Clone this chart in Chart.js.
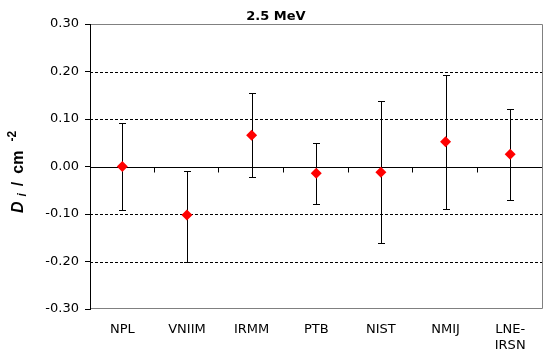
<!DOCTYPE html>
<html>
<head>
<meta charset="utf-8">
<script src="https://cdn.jsdelivr.net/npm/chart.js@4.4.0/dist/chart.umd.min.js"></script>
<style>
  html, body { margin: 0; padding: 0; background: #fff; }
  #wrap { width: 548px; height: 354px; }
</style>
</head>
<body>
<div id="wrap"><canvas id="chart" width="548" height="354"></canvas></div>
<script>
// data
var labs = ['NPL', 'VNIIM', 'IRMM', 'PTB', 'NIST', 'NMIJ', ['LNE-', 'IRSN']];
var vals = [0.000, -0.102, 0.066, -0.014, -0.012, 0.052, 0.026];
var errHi = [0.092, -0.009, 0.155, 0.050, 0.138, 0.193, 0.121];
var errLo = [-0.091, -0.200, -0.022, -0.079, -0.161, -0.089, -0.070];
var yTicks = [-0.3, -0.2, -0.1, 0, 0.1, 0.2, 0.3];

var tickFont = { family: 'DejaVu Sans', size: 13, lineHeight: 1.2 };

function hline(ctx, x1, x2, py) {
	ctx.beginPath();
	ctx.moveTo(x1, py);
	ctx.lineTo(x2, py);
	ctx.stroke();
}

// grid, border, zero axis and error bars
var decor = {
	id: 'decor',
	beforeDatasetsDraw: function(chart) {
		var ctx = chart.ctx, a = chart.chartArea;
		var x = chart.scales.x, y = chart.scales.y;
		ctx.save();
		ctx.lineWidth = 1;

		// dashed grid lines
		ctx.strokeStyle = '#000';
		ctx.setLineDash([3, 2]);
		yTicks.forEach(function(t) {
			if (t == 0 || Math.abs(t) > 0.25) return;
			hline(ctx, a.left, a.right, Math.round(y.getPixelForValue(t)) + 0.5);
		});
		ctx.setLineDash([]);

		// zero line with category ticks
		ctx.strokeStyle = '#000';
		var zy = Math.round(y.getPixelForValue(0)) + 0.5;
		hline(ctx, a.left, a.right, zy);
		var step = (a.right - a.left) / labs.length;
		ctx.beginPath();
		for (var i = 1; i <= labs.length; i++) {
			var tx = Math.round(x.getPixelForValue(i - 1) + step / 2) - 0.5;
			ctx.moveTo(tx, zy);
			ctx.lineTo(tx, zy + 5);
		}
		ctx.stroke();

		// error bars
		for (var j = 0; j < vals.length; j++) {
			var ex = Math.round(x.getPixelForValue(j)) + 0.5;
			var hy = Math.round(y.getPixelForValue(errHi[j])) + 0.5;
			var ly = Math.round(y.getPixelForValue(errLo[j])) + 0.5;
			ctx.beginPath();
			ctx.moveTo(ex, hy);
			ctx.lineTo(ex, ly);
			ctx.moveTo(ex - 3.5, hy);
			ctx.lineTo(ex + 3.5, hy);
			ctx.moveTo(ex - 3.5, ly);
			ctx.lineTo(ex + 3.5, ly);
			ctx.stroke();
		}
		ctx.restore();
	},
	afterDraw: function(chart) {
		var ctx = chart.ctx, a = chart.chartArea, y = chart.scales.y;
		ctx.save();

		// gray plot border (top, right, bottom)
		ctx.lineWidth = 1;
		ctx.strokeStyle = '#808080';
		var pTop = Math.round(y.getPixelForValue(0.3)) + 0.5;
		var pBot = Math.round(y.getPixelForValue(-0.3)) - 0.5;
		var rx = Math.round(a.right) - 0.5;
		var lx = Math.round(a.left) + 1;
		hline(ctx, lx, rx, pTop);
		hline(ctx, lx, rx, pBot);
		ctx.beginPath();
		ctx.moveTo(rx, pTop);
		ctx.lineTo(rx, pBot);
		ctx.stroke();

		ctx.fillStyle = '#000';
		// title
		ctx.font = 'bold 13px "DejaVu Sans"';
		ctx.textAlign = 'center';
		ctx.textBaseline = 'alphabetic';
		ctx.fillText('2.5 MeV', 276, 20);

		// y axis title, rotated
		ctx.translate(23, 172);
		ctx.rotate(-Math.PI / 2);
		var parts = [
			{ t: 'D', f: 'italic bold 16px "Liberation Sans"', dy: 0, gap: 5 },
			{ t: 'i', f: 'italic bold 12px "Liberation Sans"', dy: 3, gap: 7 },
			{ t: '/', f: 'bold 16px "Liberation Sans"', dy: 0, gap: 8 },
			{ t: 'cm', f: 'bold 16px "Liberation Sans"', dy: 0, gap: 9 },
			{ t: '-2', f: 'bold 12px "Liberation Sans"', dy: -7, gap: 0 }
		];
		var w = 0;
		parts.forEach(function(p) { ctx.font = p.f; w += ctx.measureText(p.t).width + p.gap; });
		var cx = -w / 2;
		ctx.textAlign = 'left';
		parts.forEach(function(p) {
			ctx.font = p.f;
			ctx.fillText(p.t, cx, p.dy);
			cx += ctx.measureText(p.t).width + p.gap;
		});
		ctx.restore();
	}
};

new Chart(document.getElementById('chart'), {
	type: 'line',
	data: {
		labels: labs,
		datasets: [{
			data: vals,
			showLine: false,
			pointStyle: 'rectRot',
			pointRadius: 5.5,
			pointHoverRadius: 5.5,
			pointBackgroundColor: '#ff0000',
			pointBorderColor: '#ff0000',
			pointBorderWidth: 0
		}]
	},
	options: {
		responsive: false,
		animation: false,
		layout: { padding: { left: 0, right: 5, top: 24, bottom: 0 } },
		plugins: { legend: { display: false }, tooltip: { enabled: false } },
		scales: {
			x: {
				offset: true,
				grid: { display: false, offset: true },
				border: { display: false },
				ticks: { color: '#000', font: tickFont, padding: 5, maxRotation: 0, autoSkip: false },
				afterFit: function(s) { s.height = 45; }
			},
			y: {
				min: -0.3,
				max: 0.3,
				grid: { drawOnChartArea: false, drawTicks: true, tickLength: 5, color: '#000' },
				border: { display: true, color: '#000' },
				ticks: {
					color: '#000', font: tickFont, padding: 6, stepSize: 0.1,
					callback: function(v) { return v.toFixed(2); }
				},
				afterFit: function(s) { s.width = 90; }
			}
		}
	},
	plugins: [decor]
});
</script>
</body>
</html>
